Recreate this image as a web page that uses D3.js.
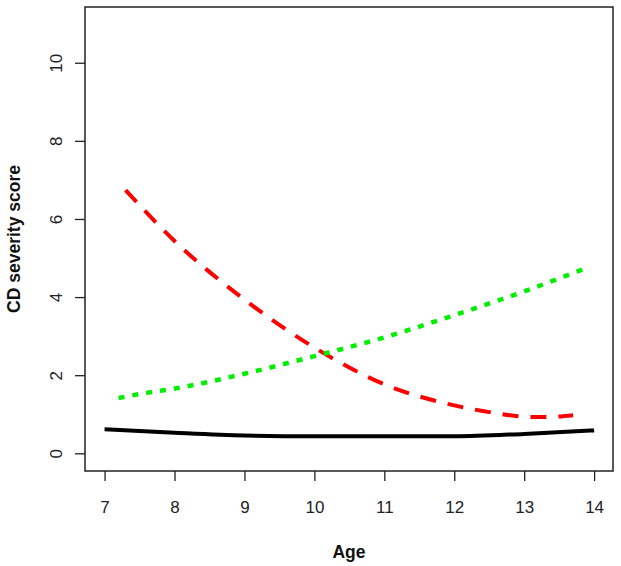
<!DOCTYPE html>
<html>
<head>
<meta charset="utf-8">
<script src="https://cdn.jsdelivr.net/npm/d3@7"></script>
<style>
  body { margin: 0; background: #fff; }
  text { font-family: "Liberation Sans", Arial, sans-serif; }
</style>
</head>
<body>
<div id="chart"></div>
<script>
// width and height
var w = 621;
var h = 566;

// plot region (R style box)
var box = {left: 85, right: 613, top: 7, bottom: 471};

// data
var blackAge = [7, 8, 9, 10, 11, 12, 13, 14];
var blackScore = [0.63, 0.54, 0.47, 0.45, 0.45, 0.45, 0.51, 0.60];

var redAge = [7.3, 8, 9, 10, 11, 12, 12.6, 13, 13.3, 13.7];
var redScore = [6.75, 5.45, 3.95, 2.72, 1.78, 1.24, 1.04, 0.95, 0.94, 0.99];

var greenAge = [7.2, 7.6, 8, 9, 10, 11, 12, 13, 13.85];
var greenScore = [1.43, 1.56, 1.67, 2.05, 2.5, 2.98, 3.55, 4.16, 4.73];

var xTicks = [7, 8, 9, 10, 11, 12, 13, 14];
var yTicks = [0, 2, 4, 6, 8, 10];

var svg = d3.select("#chart")
  .append("svg")
  .attr("width", w)
  .attr("height", h);

var x = d3.scaleLinear()
  .domain([6.72, 14.27])
  .range([box.left, box.right]);

var y = d3.scaleLinear()
  .domain([-0.44, 11.44])
  .range([box.bottom, box.top]);

// lines
var line = d3.line()
  .curve(d3.curveMonotoneX)
  .x(function(d) { return x(d[0]); })
  .y(function(d) { return y(d[1]); });

function pairs(a, b) {
  return a.map(function(v, i) { return [v, b[i]]; });
}

svg.append("path")
  .datum(pairs(blackAge, blackScore))
  .attr("d", line)
  .attr("fill", "none")
  .attr("stroke", "#000")
  .attr("stroke-width", 4);

svg.append("path")
  .datum(pairs(redAge, redScore))
  .attr("d", line)
  .attr("fill", "none")
  .attr("stroke", "#ff0000")
  .attr("stroke-width", 4)
  .attr("stroke-dasharray", "16,12");

svg.append("path")
  .datum(pairs(greenAge, greenScore))
  .attr("d", line)
  .attr("fill", "none")
  .attr("stroke", "#00ee00")
  .attr("stroke-width", 4.5)
  .attr("stroke-dasharray", "6,8");

// box
svg.append("rect")
  .attr("x", box.left)
  .attr("y", box.top)
  .attr("width", box.right - box.left)
  .attr("height", box.bottom - box.top)
  .attr("fill", "none")
  .attr("stroke", "#222")
  .attr("stroke-width", 1.5);

// x axis
var xAxis = svg.append("g")
  .attr("transform", "translate(0," + box.bottom + ")")
  .call(d3.axisBottom(x).tickValues(xTicks).tickSize(10).tickPadding(20).tickFormat(d3.format("d")));
xAxis.select(".domain").remove();
xAxis.selectAll("line").attr("stroke", "#222").attr("stroke-width", 1.3);
xAxis.selectAll("text")
  .attr("font-size", "17px")
  .attr("fill", "#222")
  .attr("font-family", "Liberation Sans, Arial, sans-serif");

// y axis
var yAxis = svg.append("g")
  .attr("transform", "translate(" + box.left + ",0)")
  .call(d3.axisLeft(y).tickValues(yTicks).tickSize(10).tickFormat(d3.format("d")));
yAxis.select(".domain").remove();
yAxis.selectAll("line").attr("stroke", "#222").attr("stroke-width", 1.3);
yAxis.selectAll("text")
  .attr("x", null)
  .attr("dy", null)
  .attr("text-anchor", "middle")
  .attr("transform", function(d) { return "translate(-23," + y(d) + ") rotate(-90)"; })
  .attr("y", 0)
  .attr("font-size", "17px")
  .attr("fill", "#222")
  .attr("font-family", "Liberation Sans, Arial, sans-serif");
yAxis.selectAll(".tick").attr("transform", null);
yAxis.selectAll(".tick line")
  .attr("y1", function(d) { return y(d); })
  .attr("y2", function(d) { return y(d); });

// axis titles
svg.append("text")
  .text("Age")
  .attr("x", (box.left + box.right) / 2)
  .attr("y", 558)
  .attr("text-anchor", "middle")
  .attr("font-size", "17.5px")
  .attr("font-weight", "bold")
  .attr("fill", "#111");

svg.append("text")
  .text("CD severity score")
  .attr("transform", "translate(20," + ((box.top + box.bottom) / 2) + ") rotate(-90)")
  .attr("text-anchor", "middle")
  .attr("font-size", "17.5px")
  .attr("font-weight", "bold")
  .attr("fill", "#111");
</script>
</body>
</html>
